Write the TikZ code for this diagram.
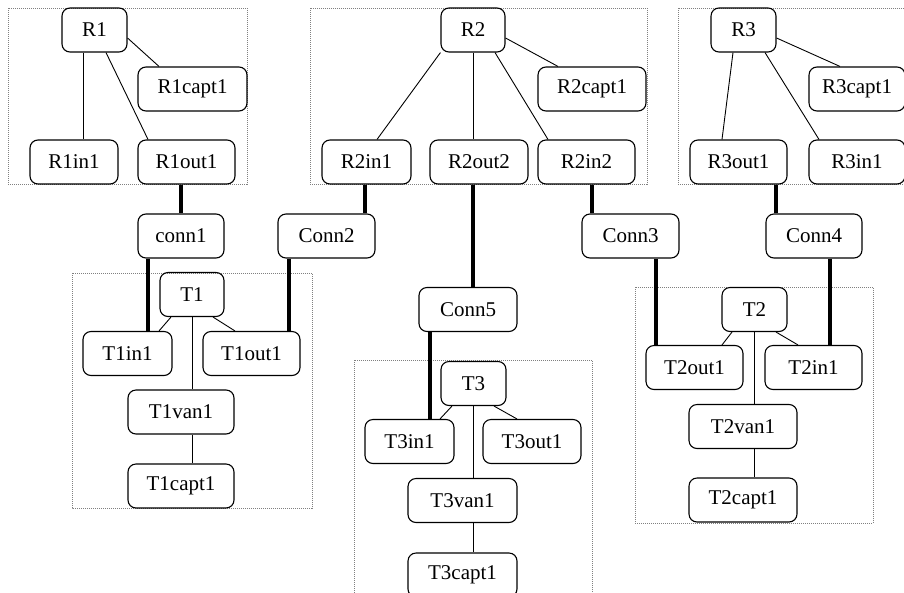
\documentclass[tikz,border=0pt]{standalone}
\usepackage{fontspec}
\setmainfont{Liberation Serif}
\usepackage{tikz}

\tikzset{
	comp/.style={draw, rounded corners=8pt, line width=1.1pt, minimum height=44pt, minimum width=#1, inner xsep=0pt, font=\fontsize{21}{25}\selectfont},
	comp/.default=97pt,
	group/.style={draw=gray, line width=0.8pt, dash pattern=on 1pt off 1pt},
	link/.style={line width=0.9pt},
	wire/.style={line width=4pt},
}

\begin{document}
\begin{tikzpicture}[x=1pt, y=-1pt]
	\useasboundingbox (0,0) rectangle (904,592);
	\draw[group] (8,8) rectangle (247,184);
	\draw[group] (310,8) rectangle (647,184);
	\draw[group] (678,8) rectangle (910,184);
	\draw[group] (72,273) rectangle (312,508);
	\draw[group] (635,287) rectangle (873,523);
	\draw[group] (354,360) rectangle (592,600);

	\node[comp=65pt] (R1) at (94.5,30) {R1};
	\node[comp=109pt] (R1capt1) at (192.5,89) {R1capt1};
	\node[comp=88pt] (R1in1) at (74,162) {R1in1};
	\node[comp=97pt] (R1out1) at (186.5,162) {R1out1};
	\node[comp=86pt] (conn1) at (181,236) {conn1};
	\node[comp=97pt] (Conn2) at (326.5,236) {Conn2};

	\node[comp=64pt] (R2) at (473,30) {R2};
	\node[comp=108pt] (R2capt1) at (592,89) {R2capt1};
	\node[comp=89pt] (R2in1) at (366.5,162) {R2in1};
	\node[comp=98pt] (R2out2) at (479,162) {R2out2};
	\node[comp=97pt] (R2in2) at (586.5,162) {R2in2};
	\node[comp=97pt] (Conn3) at (630.5,236) {Conn3};
	\node[comp=98pt] (Conn5) at (468,309.5) {Conn5};

	\node[comp=65pt] (R3) at (743.5,30) {R3};
	\node[comp=96pt] (R3capt1) at (857,89) {R3capt1};
	\node[comp=96pt] (R3in1) at (857,162) {R3in1};
	\node[comp=97pt] (R3out1) at (738.5,162) {R3out1};
	\node[comp=96pt] (Conn4) at (814,236) {Conn4};

	\node[comp=64pt] (T1) at (192,294.5) {T1};
	\node[comp=89pt] (T1in1) at (127.5,353.5) {T1in1};
	\node[comp=97pt] (T1out1) at (251.5,353.5) {T1out1};
	\node[comp=106pt] (T1van1) at (181,412) {T1van1};
	\node[comp=106pt] (T1capt1) at (181,486) {T1capt1};

	\node[comp=65pt] (T2) at (754.5,309.5) {T2};
	\node[comp=97pt] (T2out1) at (694.5,367.5) {T2out1};
	\node[comp=97pt] (T2in1) at (813.5,367.5) {T2in1};
	\node[comp=108pt] (T2van1) at (743,426.5) {T2van1};
	\node[comp=108pt] (T2capt1) at (743,500) {T2capt1};

	\node[comp=65pt] (T3) at (473.5,383.5) {T3};
	\node[comp=89pt] (T3in1) at (409.5,441.5) {T3in1};
	\node[comp=98pt] (T3out1) at (532,441.5) {T3out1};
	\node[comp=109pt] (T3van1) at (462.5,500.5) {T3van1};
	\node[comp=109pt] (T3capt1) at (462.5,575) {T3capt1};

	\draw[link] (R1.south -| 83,0) -- (R1in1.north -| 83,0);
	\draw[link] (R1.south -| 106,0) -- (R1out1.north -| 148,0);
	\draw[link] (R1.east |- 0,38) -- (R1capt1.north -| 159,0);
	\draw[link] (R2.south west) -- (R2in1.north -| 377,0);
	\draw[link] (R2.south -| 473,0) -- (R2out2.north -| 473,0);
	\draw[link] (R2.south -| 495,0) -- (R2in2.north -| 548,0);
	\draw[link] (R2.east |- 0,38) -- (R2capt1.north -| 558,0);
	\draw[link] (R3.south -| 733,0) -- (R3out1.north -| 722,0);
	\draw[link] (R3.south -| 765,0) -- (R3in1.north -| 819,0);
	\draw[link] (R3.east |- 0,38) -- (R3capt1.north -| 840,0);

	\draw[link] (T1.south -| 171,0) -- (T1in1.north -| 159,0);
	\draw[link] (T1.south -| 213,0) -- (T1out1.north -| 235,0);
	\draw[link] (T1.south) -- (T1van1.north -| T1.south);
	\draw[link] (T1van1.south -| T1.south) -- (T1capt1.north -| T1.south);
	\draw[link] (T2.south -| 732,0) -- (T2out1.north -| 722,0);
	\draw[link] (T2.south -| 776,0) -- (T2in1.north -| 798,0);
	\draw[link] (T2.south) -- (T2van1.north -| T2.south);
	\draw[link] (T2van1.south -| T2.south) -- (T2capt1.north -| T2.south);
	\draw[link] (T3.south -| 452,0) -- (T3in1.north -| 440,0);
	\draw[link] (T3.south -| 494,0) -- (T3out1.north -| 517,0);
	\draw[link] (T3.south) -- (T3van1.north -| T3.south);
	\draw[link] (T3van1.south -| T3.south) -- (T3capt1.north -| T3.south);

	\draw[wire] (R1out1.south -| 181,0) -- (conn1.north -| 181,0);
	\draw[wire] (R2in1.south -| 365,0) -- (Conn2.north -| 365,0);
	\draw[wire] (R2out2.south -| 473,0) -- (Conn5.north -| 473,0);
	\draw[wire] (R2in2.south -| 592,0) -- (Conn3.north -| 592,0);
	\draw[wire] (R3out1.south -| 776,0) -- (Conn4.north -| 776,0);
	\draw[wire] (conn1.south -| 148,0) -- (T1in1.north -| 148,0);
	\draw[wire] (Conn2.south -| 289,0) -- (T1out1.north -| 289,0);
	\draw[wire] (Conn5.south -| 430,0) -- (T3in1.north -| 430,0);
	\draw[wire] (Conn3.south -| 656,0) -- (T2out1.north -| 656,0);
	\draw[wire] (Conn4.south -| 830,0) -- (T2in1.north -| 830,0);
\end{tikzpicture}
\end{document}
